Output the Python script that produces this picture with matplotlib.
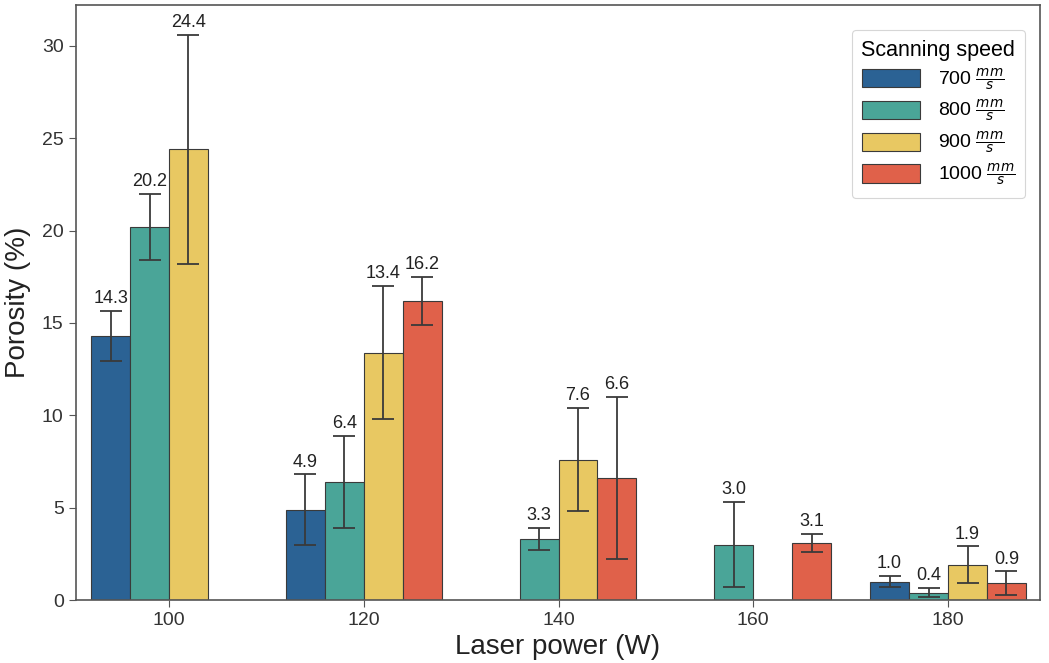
import matplotlib
matplotlib.use('Agg')
import matplotlib.pyplot as plt
import numpy as np

plt.rcParams['font.family'] = ['Liberation Sans', 'DejaVu Sans']
plt.rcParams['mathtext.fontset'] = 'dejavusans'

# ==================== data ====================
powers = ['100', '120', '140', '160', '180']
speeds = ['700', '800', '900', '1000']
colors = ['#2b6294', '#4aa598', '#e8c862', '#e0614a']

# NaN = no bar for this power / speed combination
porosity = {
    '700':  [14.3, 4.9, np.nan, np.nan, 1.0],
    '800':  [20.2, 6.4, 3.3, 3.0, 0.4],
    '900':  [24.4, 13.4, 7.6, np.nan, 1.9],
    '1000': [np.nan, 16.2, 6.6, 3.1, 0.9],
}
porosity_err = {
    '700':  [1.35, 1.9, np.nan, np.nan, 0.3],
    '800':  [1.8, 2.5, 0.6, 2.3, 0.25],
    '900':  [6.2, 3.6, 2.8, np.nan, 1.0],
    '1000': [np.nan, 1.3, 4.4, 0.5, 0.65],
}

# ==================== plot ====================
fig, ax = plt.subplots(figsize=(10.49, 6.63), dpi=100)
x = np.arange(len(powers))
width = 0.2

for i, sp in enumerate(speeds):
    vals = np.array(porosity[sp])
    errs = np.array(porosity_err[sp])
    pos = x + (i - 1.5) * width
    mask = ~np.isnan(vals)
    ax.bar(pos[mask], vals[mask], width, color=colors[i], edgecolor='#3a3a3a',
           linewidth=0.8, label=sp + r' $\frac{mm}{s}$', zorder=2)
    ax.errorbar(pos[mask], vals[mask], yerr=errs[mask], fmt='none',
                ecolor='#3a3a3a', elinewidth=1.3, capsize=8, capthick=1.3, zorder=3)
    for p, v, e in zip(pos[mask], vals[mask], errs[mask]):
        ax.text(p, v + e + 0.2, f'{v:.1f}', ha='center', va='bottom',
                fontsize=13, color='#222222')

ax.set_xticks(x)
ax.set_xticklabels(powers)
ax.set_xlim(-0.48, 4.47)
ax.set_ylim(0, 32.2)
ax.set_yticks([0, 5, 10, 15, 20, 25, 30])
ax.tick_params(axis='both', labelsize=14, colors='#333333', length=5, color='#555555')
ax.set_xlabel('Laser power (W)', fontsize=20, color='#222222', labelpad=4)
ax.set_ylabel('Porosity (%)', fontsize=20, color='#222222', labelpad=8)
for s in ax.spines.values():
    s.set_color('#555555')
    s.set_linewidth(1.2)

leg = ax.legend(title='Scanning speed', fontsize=14, title_fontsize=15.5,
                loc='upper right', bbox_to_anchor=(0.995, 0.975), frameon=True,
                handlelength=3.0, handleheight=1.1, labelspacing=0.3,
                borderpad=0.5, handletextpad=0.9)
leg.get_frame().set_edgecolor('#cccccc')
leg.get_frame().set_linewidth(0.8)

plt.subplots_adjust(left=0.072, right=0.991, top=0.992, bottom=0.095)
plt.savefig('out.png', dpi=100)
plt.close()
